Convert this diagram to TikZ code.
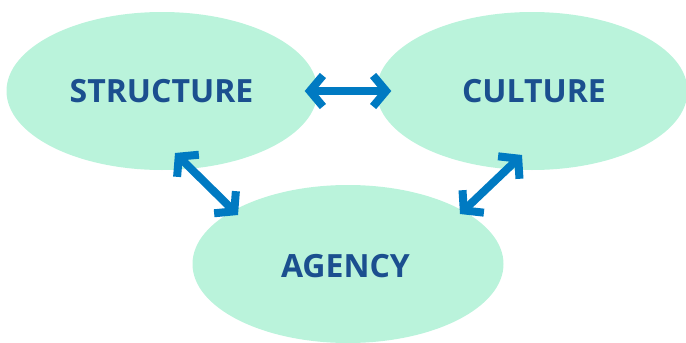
\documentclass[tikz,border=0pt]{standalone}
\usepackage{fontspec}
\setmainfont{Open Sans}
\usepackage{tikz}
\usetikzlibrary{arrows.meta, shapes.geometric}
\definecolor{mint}{RGB}{186,243,219}
\definecolor{navy}{RGB}{27,79,143}
\definecolor{linkblue}{RGB}{0,122,194}
\tikzset{
  blob/.style = {ellipse, fill = mint, inner sep = 0pt, minimum width = 311pt, minimum height = 158pt},
  tag/.style = {text = navy, font = \fontsize{32}{36}\selectfont\bfseries},
  link/.style = {{Straight Barb[length=13pt,width=31pt]}-{Straight Barb[length=13pt,width=31pt]}, line width = 8pt, linkblue}
}

\begin{document}
\begin{tikzpicture}[x = 1pt, y = -1pt]
	\useasboundingbox (0,0) rectangle (686,343);
	\node (structure) [blob] at (162,91) {};
	\node (culture) [blob] at (532,91) {};
	\node (agency) [blob] at (348,264) {};
	\node (structuretag) [tag] at (161.5,91.5) {STRUCTURE};
	\node (culturetag) [tag] at (534,91.5) {CULTURE};
	\node (agencytag) [tag] at (345.5,266) {AGENCY};
	% arrow ends
	\coordinate (sa) at (175,153);
	\coordinate (as) at (238,215);
	\coordinate (ca) at (522,155);
	\coordinate (ac) at (460,214);
	\draw[link, shorten <= -13pt, shorten >= -15pt] (structure.east) -- (culture.west);
	\draw[link] (sa) -- (as);
	\draw[link] (ca) -- (ac);
\end{tikzpicture}
\end{document}
